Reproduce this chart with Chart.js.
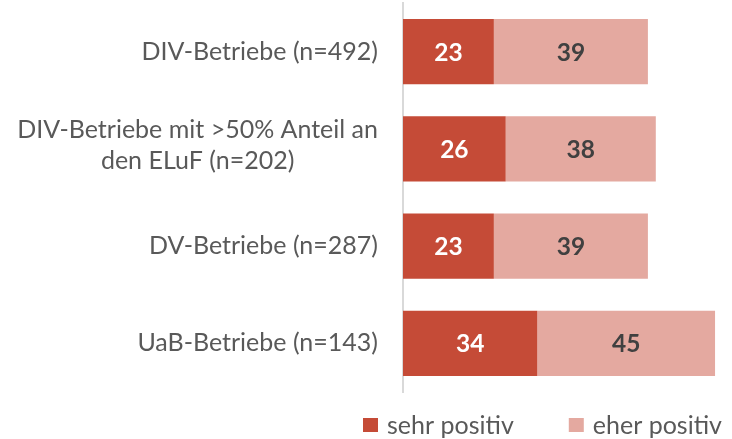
<!DOCTYPE html>
<html>
<head>
<meta charset="utf-8">
<script src="https://cdn.jsdelivr.net/npm/chart.js@4"></script>
<style>
  html, body { margin: 0; padding: 0; background: #fff; }
  #wrap { width: 732px; height: 439px; }
</style>
</head>
<body>
<div id="wrap"><canvas id="myChart" width="732" height="439"></canvas></div>
<script>
// categories (y axis)
var categories = [
    'DIV-Betriebe (n=492)',
    ['DIV-Betriebe mit >50% Anteil an', 'den ELuF (n=202)'],
    'DV-Betriebe (n=287)',
    'UaB-Betriebe (n=143)'
];
// series values
var sehrPositiv = [23, 26, 23, 34];
var eherPositiv = [39, 38, 39, 45];
var seriesNames = ['sehr positiv', 'eher positiv'];
var seriesColors = ['#C54B37', '#E4A9A0'];
var valueColors = ['#FFFFFF', '#404040'];

var FONT = 'Lato, "Open Sans", sans-serif';

// draws the category labels: block right aligned, lines centred inside
var categoryLabels = {
    id: 'categoryLabels',
    afterDraw: function(chart) {
        var ctx = chart.ctx;
        var yScale = chart.scales.y;
        var right = chart.chartArea.left - 25;
        ctx.save();
        ctx.font = '25px ' + FONT;
        ctx.fillStyle = '#595959';
        ctx.textAlign = 'center';
        ctx.textBaseline = 'middle';
        categories.forEach(function(cat, i) {
            var lines = Array.isArray(cat) ? cat : [cat];
            var maxW = 0;
            lines.forEach(function(l) { maxW = Math.max(maxW, ctx.measureText(l).width); });
            var cy = yScale.getPixelForValue(i);
            var lh = 31;
            var top = cy - (lines.length - 1) * lh / 2 - (lines.length > 1 ? 3 : 0);
            lines.forEach(function(l, j) {
                ctx.fillText(l, right - maxW / 2, top + j * lh);
            });
        });
        ctx.restore();
    }
};

// values written in the middle of each bar segment
var valueLabels = {
    id: 'valueLabels',
    afterDatasetsDraw: function(chart) {
        var ctx = chart.ctx;
        ctx.save();
        ctx.font = 'bold 24.5px ' + FONT;
        ctx.textAlign = 'center';
        ctx.textBaseline = 'middle';
        chart.data.datasets.forEach(function(ds, di) {
            var meta = chart.getDatasetMeta(di);
            ctx.fillStyle = valueColors[di];
            meta.data.forEach(function(bar, i) {
                var p = bar.getCenterPoint();
                ctx.fillText(ds.data[i], p.x, p.y + 1);
            });
        });
        ctx.restore();
    }
};

// legend below the plot
var bottomLegend = {
    id: 'bottomLegend',
    afterDraw: function(chart) {
        var ctx = chart.ctx;
        var x = chart.chartArea.left - 40;
        var y = 425;
        ctx.save();
        ctx.font = '25px ' + FONT;
        ctx.textBaseline = 'middle';
        ctx.textAlign = 'left';
        chart.data.datasets.forEach(function(ds) {
            ctx.fillStyle = ds.backgroundColor;
            ctx.fillRect(x, y - 7, 15, 14);
            ctx.fillStyle = '#595959';
            ctx.fillText(ds.label, x + 24, y + 1);
            x += 24 + ctx.measureText(ds.label).width + 55;
        });
        ctx.restore();
    }
};

window.onload = function() {
    var ctx = document.getElementById('myChart').getContext('2d');
    var myChart = new Chart(ctx, {
        type: 'bar',
        data: {
            labels: categories,
            datasets: [{
                label: seriesNames[0],
                data: sehrPositiv,
                backgroundColor: seriesColors[0]
            }, {
                label: seriesNames[1],
                data: eherPositiv,
                backgroundColor: seriesColors[1]
            }]
        },
        options: {
            indexAxis: 'y',
            responsive: false,
            animation: false,
            layout: { padding: { top: 3, bottom: 47, right: 13, left: 0 } },
            barPercentage: 0.67,
            categoryPercentage: 1,
            scales: {
                x: {
                    stacked: true,
                    display: false,
                    min: 0,
                    max: 80
                },
                y: {
                    stacked: true,
                    grid: { display: false, drawTicks: false },
                    border: { display: true, color: '#D9D9D9', width: 2 },
                    ticks: { display: false },
                    afterFit: function(scale) { scale.width = 403; }
                }
            },
            plugins: {
                legend: { display: false },
                tooltip: { enabled: false }
            }
        },
        plugins: [categoryLabels, valueLabels, bottomLegend]
    });
};
</script>
</body>
</html>
